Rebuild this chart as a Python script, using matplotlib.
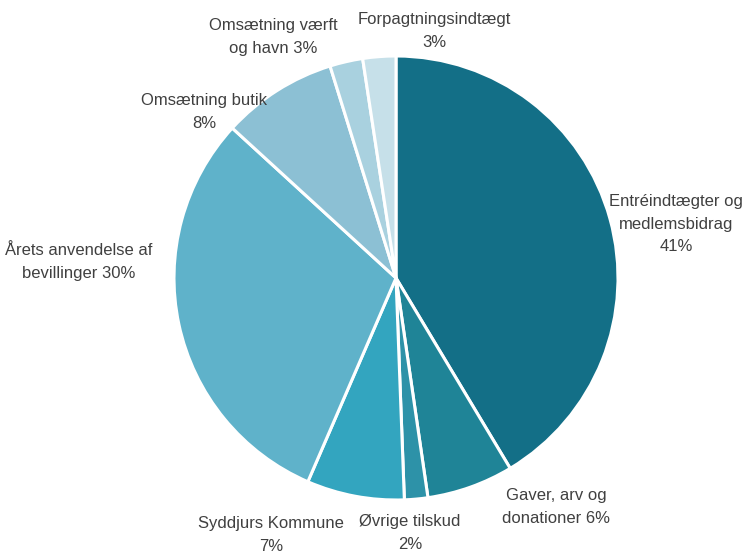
import matplotlib
matplotlib.use("Agg")
import matplotlib.pyplot as plt

categories = ["Entréindtægter og\nmedlemsbidrag\n41%",
              "Gaver, arv og\ndonationer 6%",
              "Øvrige tilskud\n2%",
              "Syddjurs Kommune\n7%",
              "Årets anvendelse af\nbevillinger 30%",
              "Omsætning butik\n8%",
              "Omsætning værft\nog havn 3%",
              "Forpagtningsindtægt\n3%"]
values = [41.4, 6.3, 1.7, 7.1, 30.3, 8.4, 2.4, 2.4]
colors = ["#136f87", "#1f8497", "#2d92a8", "#33a5bf", "#5fb2ca", "#8cc0d4", "#a9d1df", "#c6e0e9"]

# label centres in pixel coords (y from top)
label_pos = [(676, 224), (556, 507), (410, 533), (271, 535),
             (79, 262), (204, 112), (273, 37), (434, 31)]

H = 553
plt.rcParams['font.family'] = ['Liberation Sans', 'DejaVu Sans']

fig = plt.figure(figsize=(7.52, 5.53), dpi=100)
ax = fig.add_axes([0, 0, 1, 1])

wedges, _ = ax.pie(values, colors=colors, startangle=90, counterclock=False,
                   center=(396, H - 278), radius=222, frame=True,
                   wedgeprops=dict(edgecolor="white", linewidth=2.2))
ax.set_xlim(0, 752)
ax.set_ylim(0, H)
ax.set_aspect('equal')
ax.axis('off')

for txt, (x, y) in zip(categories, label_pos):
    ax.text(x, H - y, txt, ha="center", va="center", fontsize=12,
            color="#404040", linespacing=1.6)

fig.savefig("out.png", dpi=100, facecolor="white")
